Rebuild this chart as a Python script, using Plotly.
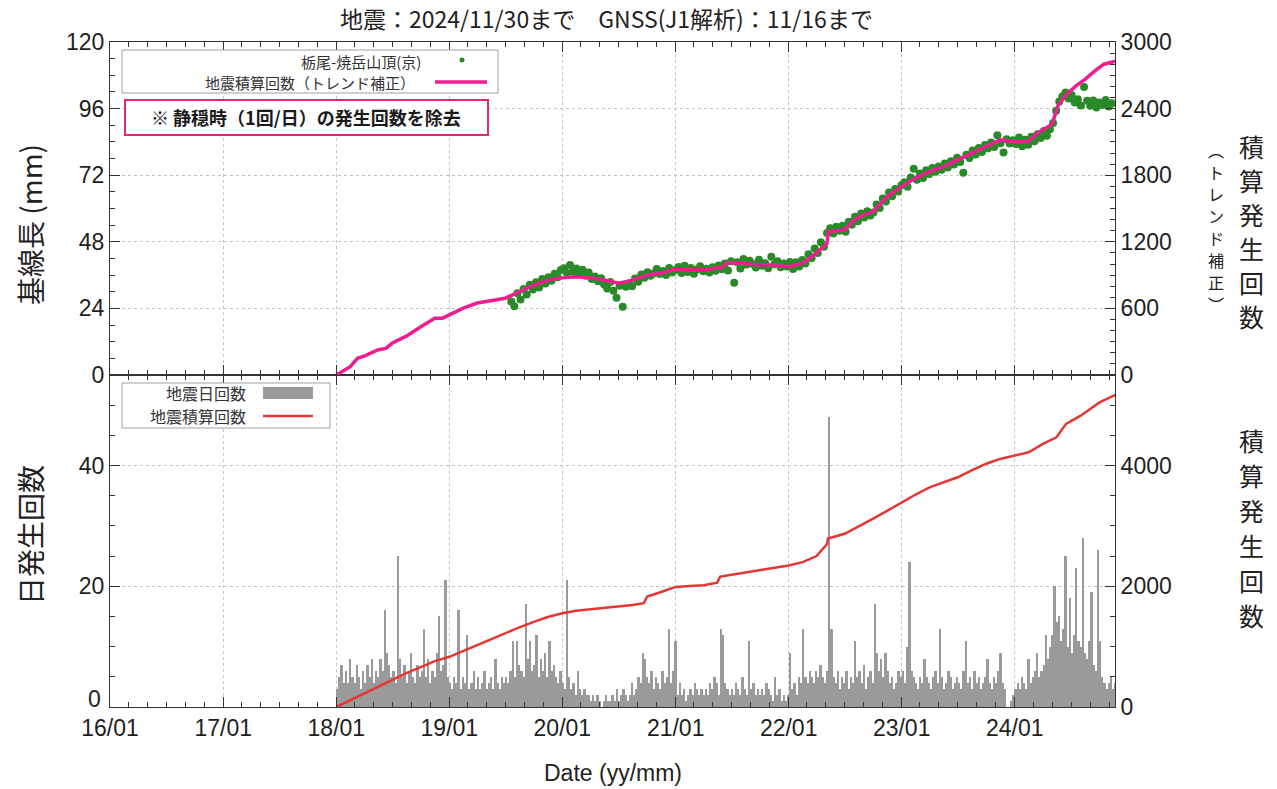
import pandas as pd
import plotly.graph_objects as go

W, H = 1277, 789
PL, PR, PT, PB = 110, 1115, 42, 707
MID = 375


def fx(x):
    return (x - PL) / (PR - PL)


def fy(y):
    return (PB - y) / (PB - PT)


YSPLIT = fy(MID)

# ---------------- data ----------------
x_range = ["2016-01-01", "2024-11-20"]

# 地震積算回数（トレンド補正） (right axis of upper panel)
pink_dates = [
    "2018-01-01", "2018-02-15", "2018-03-10", "2018-04-01", "2018-05-15", "2018-06-10",
    "2018-07-01", "2018-08-15", "2018-10-01", "2018-11-15", "2018-12-10", "2019-01-01",
    "2019-02-15", "2019-04-01", "2019-05-15", "2019-07-01", "2019-08-15", "2019-10-01",
    "2019-11-15", "2020-01-01", "2020-02-15", "2020-04-01", "2020-05-15", "2020-07-01",
    "2020-08-15", "2020-10-01", "2020-11-15", "2021-01-01", "2021-02-15", "2021-04-01",
    "2021-05-15", "2021-06-01", "2021-06-15", "2021-08-01", "2021-10-01", "2021-11-15",
    "2022-01-01", "2022-02-15", "2022-04-01", "2022-05-05", "2022-05-09", "2022-06-01",
    "2022-07-01", "2022-08-01", "2022-09-01", "2022-10-01", "2022-11-15", "2023-01-01",
    "2023-02-15", "2023-04-01", "2023-05-15", "2023-07-01", "2023-08-15", "2023-10-01",
    "2023-11-15", "2024-01-01", "2024-02-15", "2024-03-15", "2024-04-15", "2024-05-01",
    "2024-05-20", "2024-06-15", "2024-07-15", "2024-08-15", "2024-09-15", "2024-10-15",
    "2024-11-30",
]
pink_counts = [
    0, 75, 150, 170, 225, 240,
    288, 350, 435, 512, 512, 540,
    602, 648, 670, 692, 750, 810,
    855, 875, 885, 875, 855, 828,
    855, 900, 918, 955, 945, 945,
    962, 970, 1008, 1008, 990, 990,
    975, 1008, 1100, 1188, 1290, 1300,
    1308, 1398, 1443, 1473, 1608, 1698,
    1775, 1833, 1875, 1938, 2000, 2058,
    2118, 2103, 2103, 2180, 2238, 2262,
    2425, 2525, 2600, 2663, 2738, 2800,
    2833,
]

# 栃尾-焼岳山頂(京) baseline length (mm), every 10 days from green_start
green_start = "2019-07-20"
green_mm = [
    # 2019
    26.5, 24.8, 29.5, 27.2, 31.0, 29.0, 32.5, 30.8, 33.4, 31.5, 34.6, 33.0, 35.2, 34.0, 36.5, 35.2, 37.8,
    # 2020
    38.5, 36.8, 39.6, 37.2, 38.4, 36.5, 37.9, 35.8, 36.9, 34.6, 35.5, 33.8, 34.9, 32.6, 31.2, 33.5,
    30.4, 27.8, 32.2, 24.6, 31.8, 33.0, 32.0, 34.8, 33.6, 36.2, 35.0, 37.0, 35.8, 36.6, 38.2, 36.4,
    37.5, 36.0, 38.6, 36.9, 37.8,
    # 2021
    38.9, 36.8, 39.4, 37.1, 38.6, 36.5, 38.0, 39.2, 37.4, 38.3, 36.9, 38.8, 37.6, 39.5, 38.1, 40.2,
    37.7, 41.0, 33.2, 40.6, 38.4, 41.8, 39.8, 41.2, 40.0, 38.7, 41.5, 39.4, 40.3, 38.5, 42.6, 39.9,
    41.0, 38.8, 40.2, 39.1, 40.7,
    # 2022
    38.2, 40.6, 39.1, 41.4, 40.2, 43.5, 42.1, 45.6, 44.0, 47.8, 46.2, 51.2, 52.9, 51.0, 53.4, 52.0,
    53.8, 51.6, 55.2, 54.1, 57.0, 55.4, 58.2, 56.8, 59.0, 57.5, 58.6, 61.4, 60.2, 63.6, 62.5, 65.8,
    64.4, 67.0, 66.1, 68.4,
    # 2023
    69.5, 67.8, 71.2, 74.3, 70.4, 72.6, 71.0, 73.8, 72.4, 74.6, 73.2, 75.1, 74.0, 76.2, 74.8, 77.0,
    75.9, 78.3, 76.8, 72.9, 79.4, 78.2, 80.9, 79.5, 81.8, 80.4, 82.9, 81.7, 83.8, 82.2, 86.4, 83.5,
    80.2, 85.0, 83.4, 84.6,
    # 2024
    83.2, 85.6, 82.4, 84.8, 83.0, 85.9, 84.2, 86.8, 85.4, 87.9, 86.2, 88.6, 90.8, 95.2, 98.6, 100.4,
    101.8, 99.6, 100.9, 98.2, 99.4, 97.1, 103.8, 98.8, 97.0, 98.9, 96.4, 98.2, 97.3, 99.1, 96.8, 97.9,
]

# 地震日回数 (weekly bins of the daily count, drawn as bars)
daily_2018 = [3, 5, 7, 4, 6, 4, 8, 5, 4, 7, 5, 3, 6,
              4, 7, 5, 8, 4, 6, 5, 8, 6, 16, 9, 7, 5,
              6, 4, 25, 8, 5, 7, 4, 6, 9, 5, 4, 7, 5,
              6, 13, 5, 8, 4, 6, 5, 9, 15, 6, 7, 21, 5]
daily_2019 = [4, 3, 5, 4, 16, 3, 5, 4, 12, 3, 4, 6, 3,
              5, 3, 4, 6, 3, 4, 5, 3, 8, 4, 3, 5, 4,
              5, 4, 6, 11, 5, 11, 7, 6, 5, 17, 8, 11, 6,
              7, 12, 5, 8, 6, 9, 5, 11, 6, 7, 5, 4, 6]
daily_2020 = [4, 3, 21, 5, 3, 4, 2, 6, 3, 2, 3, 2, 2,
              1, 2, 1, 2, 1, 0, 1, 2, 1, 1, 2, 1, 3,
              1, 2, 3, 2, 1, 2, 4, 2, 3, 5, 4, 9, 8,
              5, 4, 6, 3, 5, 4, 3, 6, 4, 5, 13, 4, 6]
daily_2021 = [11, 2, 4, 2, 3, 1, 2, 3, 2, 4, 3, 2, 3,
              2, 3, 2, 4, 3, 5, 4, 2, 13, 12, 4, 3, 2,
              3, 2, 4, 3, 2, 5, 3, 2, 11, 3, 4, 2, 3,
              2, 3, 2, 4, 3, 2, 1, 5, 2, 3, 1, 2, 1]
daily_2022 = [2, 9, 3, 4, 2, 5, 4, 13, 5, 4, 6, 5, 4,
              6, 5, 7, 5, 4, 6, 48, 13, 5, 4, 6, 3, 5,
              4, 6, 3, 5, 4, 11, 5, 6, 4, 7, 3, 5, 6,
              4, 17, 9, 6, 8, 5, 9, 6, 4, 5, 3, 4, 6]
daily_2023 = [5, 6, 4, 10, 24, 6, 5, 4, 3, 5, 4, 8, 5,
              4, 3, 5, 6, 4, 13, 5, 3, 4, 6, 5, 3, 4,
              5, 4, 3, 6, 11, 4, 5, 3, 6, 4, 5, 3, 4,
              5, 8, 4, 3, 5, 4, 6, 9, 4, 3, 0, 0, 1]
daily_2024 = [2, 3, 4, 3, 5, 4, 3, 8, 4, 5, 6, 9, 5,
              6, 7, 12, 8, 10, 12, 20, 14, 15, 11, 13, 25, 10,
              18, 9, 12, 23, 11, 10, 28, 9, 8, 11, 19, 7, 6,
              26, 11, 5, 4, 3, 4, 5, 3, 4]
daily_counts = daily_2018 + daily_2019 + daily_2020 + daily_2021 + daily_2022 + daily_2023 + daily_2024

# 地震積算回数 (right axis of lower panel)
cum_dates = [
    "2018-01-01", "2018-02-15", "2018-04-01", "2018-05-15", "2018-07-01", "2018-08-15",
    "2018-10-01", "2018-11-15", "2019-01-01", "2019-02-15", "2019-04-01", "2019-05-15",
    "2019-07-01", "2019-08-15", "2019-10-01", "2019-11-15", "2020-01-01", "2020-02-15",
    "2020-04-01", "2020-05-15", "2020-07-01", "2020-08-15", "2020-09-20", "2020-10-01",
    "2020-11-15", "2021-01-01", "2021-02-15", "2021-04-01", "2021-05-15", "2021-05-25",
    "2021-07-01", "2021-08-15", "2021-10-01", "2021-11-15", "2022-01-01", "2022-02-15",
    "2022-04-01", "2022-05-05", "2022-05-08", "2022-07-01", "2022-08-15", "2022-10-01",
    "2022-11-15", "2023-01-01", "2023-02-15", "2023-04-01", "2023-05-15", "2023-07-01",
    "2023-08-15", "2023-10-01", "2023-11-15", "2024-01-01", "2024-02-15", "2024-04-01",
    "2024-05-15", "2024-06-15", "2024-08-01", "2024-10-01", "2024-11-30",
]
cum_counts = [
    0, 110, 231, 330, 446, 560,
    661, 760, 832, 935, 1025, 1120,
    1223, 1320, 1410, 1490, 1553, 1595,
    1620, 1640, 1658, 1690, 1720, 1830,
    1905, 1989, 2005, 2017, 2060, 2160,
    2190, 2225, 2264, 2300, 2345, 2400,
    2500, 2700, 2790, 2870, 2990, 3120,
    3250, 3393, 3520, 3640, 3720, 3806,
    3920, 4030, 4110, 4165, 4220, 4360,
    4468, 4690, 4826, 5046, 5190,
]

# ---------------- styling ----------------
GREEN = "#2a8a2a"
PINK = "#f01d91"
RED = "#e63535"
GRAY = "#9a9a9a"
AXC = "#333333"
GRID = "#c4c4c4"
NUMFAM = "Liberation Sans, Arial, sans-serif"
NUMFONT = dict(family=NUMFAM, size=23, color="#1e1e1e")
CJK = "Noto Sans CJK JP"

green_dates = pd.date_range(green_start, periods=len(green_mm), freq="10D")
bar_dates = pd.date_range("2018-01-04", periods=len(daily_counts), freq="7D")

fig = go.Figure()

fig.add_trace(go.Scatter(x=green_dates, y=green_mm, mode="markers", xaxis="x2", yaxis="y",
                         marker=dict(color=GREEN, size=8, line=dict(width=0)),
                         name="栃尾-焼岳山頂(京)"))
fig.add_trace(go.Scatter(x=pd.to_datetime(pink_dates), y=pink_counts, mode="lines",
                         xaxis="x2", yaxis="y2", line=dict(color=PINK, width=3.5),
                         name="地震積算回数（トレンド補正）"))
fig.add_trace(go.Bar(x=bar_dates, y=daily_counts, xaxis="x", yaxis="y3",
                     width=7.6 * 86400000, marker=dict(color=GRAY, line=dict(width=0)),
                     name="地震日回数"))
fig.add_trace(go.Scatter(x=pd.to_datetime(cum_dates), y=cum_counts, mode="lines",
                         xaxis="x", yaxis="y4", line=dict(color=RED, width=2.5),
                         name="地震積算回数"))

xcommon = dict(type="date", range=x_range, tick0="2016-01-01", dtick="M12",
               ticks="inside", ticklen=10, tickwidth=1, tickcolor=AXC,
               showline=True, linecolor=AXC, linewidth=1, mirror="ticks",
               showgrid=True, gridcolor=GRID, griddash="dot", gridwidth=1,
               zeroline=False,
               minor=dict(dtick="M2", ticks="inside", ticklen=5, tickcolor=AXC, showgrid=False))
ycommon = dict(ticks="inside", ticklen=10, tickwidth=1, tickcolor=AXC,
               showline=True, linecolor=AXC, linewidth=1, zeroline=False,
               tickfont=NUMFONT)

fig.update_layout(
    width=W, height=H,
    margin=dict(l=PL, r=W - PR, t=PT, b=H - PB),
    paper_bgcolor="white", plot_bgcolor="white",
    showlegend=False, bargap=0,
    xaxis=dict(**xcommon, anchor="y3", tickformat="%y/%m", tickfont=NUMFONT),
    xaxis2=dict(**xcommon, anchor="y", matches="x", showticklabels=False),
    yaxis=dict(**ycommon, domain=[YSPLIT, 1], anchor="x2", range=[0, 120], dtick=24, tick0=0,
               showgrid=True, gridcolor=GRID, griddash="dot",
               minor=dict(dtick=6, ticks="inside", ticklen=5, tickcolor=AXC, showgrid=False)),
    yaxis2=dict(**ycommon, overlaying="y", side="right", anchor="x2", range=[0, 3000], dtick=600,
                tick0=0, showgrid=False,
                minor=dict(dtick=100, ticks="inside", ticklen=5, tickcolor=AXC, showgrid=False)),
    yaxis3=dict(**ycommon, domain=[0, YSPLIT], anchor="x", range=[0, 55], tickvals=[20, 40],
                showgrid=True, gridcolor=GRID, griddash="dot",
                minor=dict(dtick=5, ticks="inside", ticklen=5, tickcolor=AXC, showgrid=False)),
    yaxis4=dict(**ycommon, overlaying="y3", side="right", anchor="x", range=[0, 5500],
                tickvals=[0, 2000, 4000], showgrid=False,
                minor=dict(dtick=500, ticks="inside", ticklen=5, tickcolor=AXC, showgrid=False)),
)

ann = []


def text(x, y, s, size, family=CJK, anchor="center", angle=0, color="#222"):
    ann.append(dict(x=fx(x), y=fy(y), xref="paper", yref="paper", text=s, showarrow=False,
                    xanchor=anchor, yanchor="middle", textangle=angle,
                    font=dict(family=family, size=size, color=color)))


def vtext(x, y0, pitch, chars, size):
    for i, ch in enumerate(chars):
        text(x, y0 + i * pitch, ch, size)


# title and axis titles
text(606, 18, "地震：2024/11/30まで　GNSS(J1解析)：11/16まで", 23)
text(613, 773, "Date (yy/mm)", 23, family=NUMFAM)
text(30, 225, "基線長 (mm)", 28, angle=-90)
text(30, 535, "日発生回数", 28, angle=-90)
vtext(1251, 146, 34, list("積算発生回数"), 25)
vtext(1216, 150, 22, ["︵", "ト", "レ", "ン", "ド", "補", "正", "︶"], 16)
vtext(1251, 440, 35, list("積算発生回数"), 25)
# bottom-left zero label, lifted off the date labels as in the reference
text(103, 699, "0", 23, family=NUMFAM, anchor="right", color="#1e1e1e")

# legends (gnuplot style: text right-aligned, sample on the right)
text(423, 61, "栃尾-焼岳山頂(京)", 15, anchor="right", color="#333")
text(417, 82, "地震積算回数（トレンド補正）", 15, anchor="right", color="#333")
text(306, 117, "<b>※ 静穏時（1回/日）の発生回数を除去</b>", 18, color="#1a1a1a")
text(248, 393, "地震日回数", 16, anchor="right", color="#333")
text(248, 416, "地震積算回数", 16, anchor="right", color="#333")

shapes = [
    dict(type="rect", xref="paper", yref="paper", x0=fx(122), x1=fx(498), y0=fy(93), y1=fy(50),
         line=dict(color="#a0a0a0", width=1), fillcolor="white", layer="above"),
    dict(type="circle", xref="paper", yref="paper", x0=fx(459.5), x1=fx(464.5), y0=fy(62.5), y1=fy(57.5),
         line=dict(width=0), fillcolor=GREEN),
    dict(type="line", xref="paper", yref="paper", x0=fx(435), x1=fx(487), y0=fy(82), y1=fy(82),
         line=dict(color=PINK, width=3.5)),
    dict(type="rect", xref="paper", yref="paper", x0=fx(125), x1=fx(488), y0=fy(135), y1=fy(100),
         line=dict(color="#e3266f", width=2), fillcolor="white"),
    dict(type="rect", xref="paper", yref="paper", x0=fx(122), x1=fx(330), y0=fy(428), y1=fy(383),
         line=dict(color="#a0a0a0", width=1), fillcolor="white"),
    dict(type="rect", xref="paper", yref="paper", x0=fx(263), x1=fx(313), y0=fy(399), y1=fy(387),
         line=dict(width=0), fillcolor=GRAY),
    dict(type="line", xref="paper", yref="paper", x0=fx(263), x1=fx(313), y0=fy(416), y1=fy(416),
         line=dict(color=RED, width=2.5)),
]

fig.update_layout(annotations=ann, shapes=shapes)
fig.write_html("out.html")
